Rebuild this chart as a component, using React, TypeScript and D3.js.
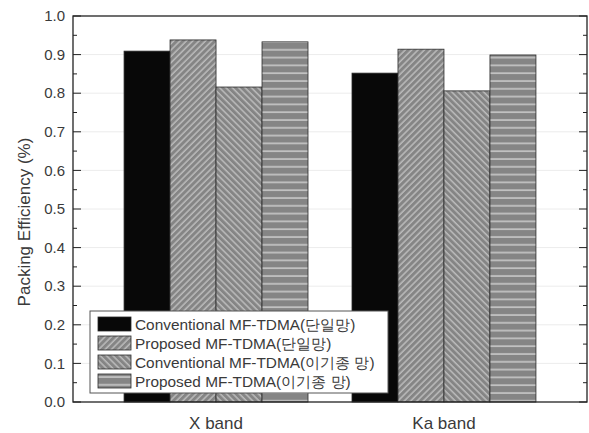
import React from "react";
import * as d3 from "d3";

const categories = ["X band", "Ka band"];
const seriesNames = [
  "Conventional MF-TDMA(단일망)",
  "Proposed MF-TDMA(단일망)",
  "Conventional MF-TDMA(이기종 망)",
  "Proposed MF-TDMA(이기종 망)",
];
const conventionalSingle = [0.909, 0.852];
const proposedSingle = [0.938, 0.914];
const conventionalHetero = [0.816, 0.806];
const proposedHetero = [0.933, 0.899];
const yTicks = [0, 0.1, 0.2, 0.3, 0.4, 0.5, 0.6, 0.7, 0.8, 0.9, 1.0];

const seriesValues = [conventionalSingle, proposedSingle, conventionalHetero, proposedHetero];
const fills = ["#080808", "url(#hatchFwd)", "url(#hatchBack)", "url(#hatchHoriz)"];

export default function App() {
  const width = 589;
  const height = 433;
  const margin = { top: 16, right: 2, bottom: 31, left: 73 };
  const plotRight = width - margin.right;
  const plotBottom = height - margin.bottom;

  const x0 = d3
    .scaleBand()
    .domain(categories)
    .range([margin.left, plotRight])
    .paddingInner(0.193)
    .paddingOuter(0.224);
  const x1 = d3
    .scaleBand()
    .domain(seriesNames)
    .range([0, x0.bandwidth()]);
  const y = d3.scaleLinear().domain([0, 1]).range([plotBottom, margin.top]);

  const font = "'Liberation Sans', Arial, sans-serif";
  const textColor = "#3a3a3a";

  // minor ticks halfway between majors
  const minorTicks = d3.range(0.05, 1, 0.1);

  return (
    <svg
      width={width}
      height={height}
      style={{ position: "absolute", left: 0, top: 0, background: "#fff" }}
      fontFamily={font}
    >
      <defs>
        <pattern id="hatchFwd" patternUnits="userSpaceOnUse" width="4.5" height="4.5" patternTransform="rotate(45)">
          <rect width="4.5" height="4.5" fill="#858585" />
          <line x1="1" y1="0" x2="1" y2="4.5" stroke="#d0d0d0" strokeWidth="1.1" />
        </pattern>
        <pattern id="hatchBack" patternUnits="userSpaceOnUse" width="4.5" height="4.5" patternTransform="rotate(-45)">
          <rect width="4.5" height="4.5" fill="#858585" />
          <line x1="1" y1="0" x2="1" y2="4.5" stroke="#d0d0d0" strokeWidth="1.1" />
        </pattern>
        <pattern id="hatchHoriz" patternUnits="userSpaceOnUse" width="8" height="7.8">
          <rect width="8" height="7.8" fill="#858585" />
          <line x1="0" y1="3" x2="8" y2="3" stroke="#d8d8d8" strokeWidth="1.3" />
        </pattern>
      </defs>

      {/* faint grid lines */}
      {yTicks.slice(1, -1).map((t) => (
        <line key={"g" + t} x1={margin.left} x2={plotRight} y1={y(t)} y2={y(t)} stroke="#ececec" strokeWidth={1} />
      ))}

      {/* bars */}
      {categories.map((cat, ci) => (
        <g key={cat} transform={`translate(${x0(cat)},0)`}>
          {seriesNames.map((s, si) => (
            <rect
              key={s}
              x={x1(s)}
              y={y(seriesValues[si][ci])}
              width={x1.bandwidth()}
              height={y(0) - y(seriesValues[si][ci])}
              fill={fills[si]}
              stroke="#2a2a2a"
              strokeWidth={0.8}
            />
          ))}
        </g>
      ))}

      {/* frame */}
      <rect
        x={margin.left}
        y={margin.top}
        width={plotRight - margin.left}
        height={plotBottom - margin.top}
        fill="none"
        stroke="#222"
        strokeWidth={1.3}
      />

      {/* y ticks, inside, left and right */}
      {yTicks.map((t) => (
        <g key={"t" + t}>
          <line x1={margin.left} x2={margin.left + 8} y1={y(t)} y2={y(t)} stroke="#222" strokeWidth={1} />
          <line x1={plotRight} x2={plotRight - 8} y1={y(t)} y2={y(t)} stroke="#222" strokeWidth={1} />
          <text
            x={margin.left - 8}
            y={y(t)}
            dy="0.35em"
            textAnchor="end"
            fontSize={15}
            fill={textColor}
          >
            {d3.format(".1f")(t)}
          </text>
        </g>
      ))}
      {minorTicks.map((t) => (
        <g key={"m" + t}>
          <line x1={margin.left} x2={margin.left + 4} y1={y(t)} y2={y(t)} stroke="#222" strokeWidth={1} />
          <line x1={plotRight} x2={plotRight - 4} y1={y(t)} y2={y(t)} stroke="#222" strokeWidth={1} />
        </g>
      ))}

      {/* x labels */}
      {categories.map((cat) => (
        <text
          key={"xl" + cat}
          x={(x0(cat) as number) + x0.bandwidth() / 2}
          y={429}
          textAnchor="middle"
          fontSize={17}
          fill={textColor}
        >
          {cat}
        </text>
      ))}

      {/* y label */}
      <text
        transform={`translate(30,222) rotate(-90)`}
        textAnchor="middle"
        fontSize={17}
        fill={textColor}
      >
        Packing Efficiency (%)
      </text>

      {/* legend */}
      <g transform="translate(90,311)">
        <rect x={0} y={0} width={298} height={82} fill="#fff" stroke="#555" strokeWidth={1} />
        {seriesNames.map((s, i) => (
          <g key={"lg" + s} transform={`translate(8,${6 + i * 19})`}>
            <rect x={0} y={0} width={33} height={14} fill={fills[i]} stroke="#2a2a2a" strokeWidth={0.8} />
            <text x={37} y={7} dy="0.36em" fontSize={15.4} fill={textColor}>
              {s}
            </text>
          </g>
        ))}
      </g>
    </svg>
  );
}
